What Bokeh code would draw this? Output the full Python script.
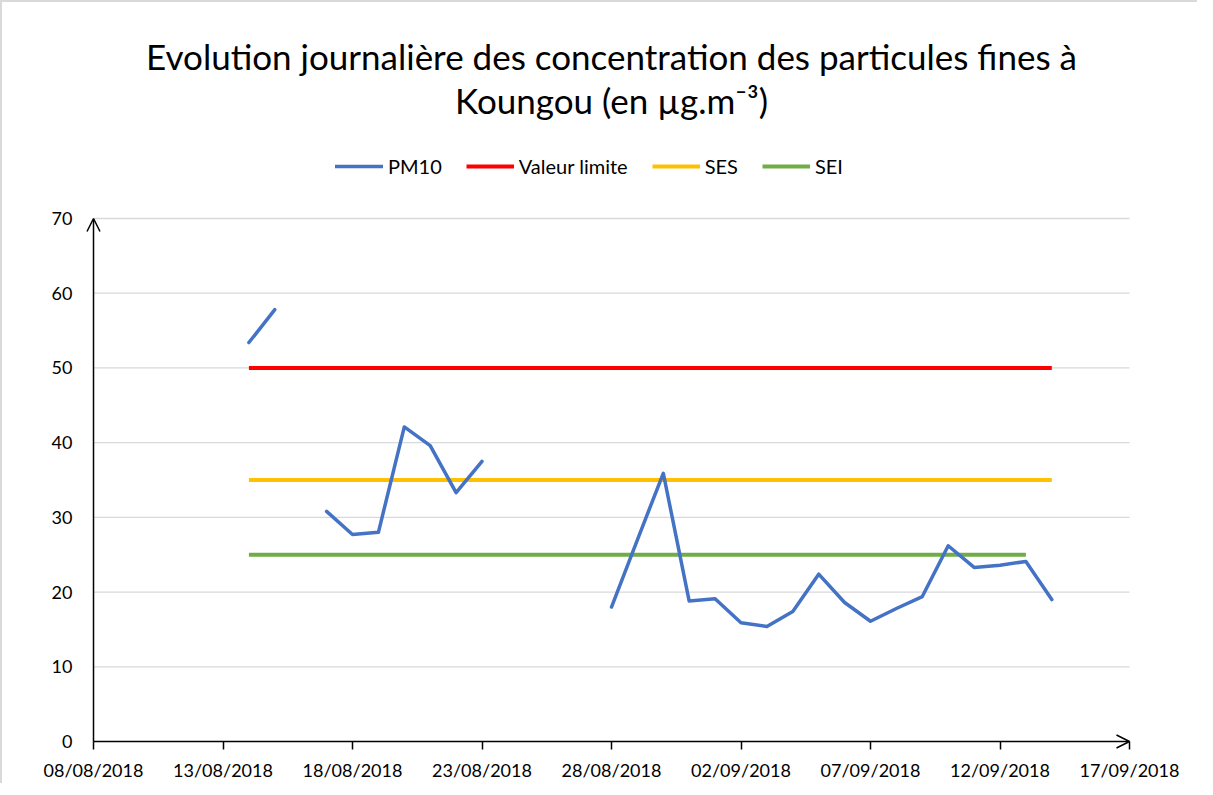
import numpy as np
import pandas as pd
from bokeh.plotting import figure
from bokeh.models import (Title, Legend, LegendItem, Arrow, OpenHead, FixedTicker,
                          DatetimeTickFormatter, Range1d, ColumnDataSource)
from bokeh.embed import file_html
from bokeh.resources import INLINE

# ---------------- data ----------------
title_line1 = "Evolution journalière des concentration des particules fines à"
title_line2 = "Koungou (en µg.m⁻³)"

dates = ["14/08/2018", "15/08/2018", "16/08/2018", "17/08/2018", "18/08/2018",
         "19/08/2018", "20/08/2018", "21/08/2018", "22/08/2018", "23/08/2018",
         "24/08/2018", "25/08/2018", "26/08/2018", "27/08/2018", "28/08/2018",
         "29/08/2018", "30/08/2018", "31/08/2018", "01/09/2018", "02/09/2018",
         "03/09/2018", "04/09/2018", "05/09/2018", "06/09/2018", "07/09/2018",
         "08/09/2018", "09/09/2018", "10/09/2018", "11/09/2018", "12/09/2018",
         "13/09/2018", "14/09/2018"]
pm10 = [53.4, 57.8, None, 30.8, 27.7, 28.0, 42.1, 39.6, 33.3, 37.5,
        None, None, None, None, 18.0, 27.0, 35.9, 18.8, 19.1, 15.9,
        15.4, 17.4, 22.4, 18.6, 16.1, 17.8, 19.4, 26.2, 23.3, 23.6,
        24.1, 19.0]
valeur_limite = [50] * 32
ses = [35] * 32
sei = [25] * 31 + [None]

tick_labels = ["08/08/2018", "13/08/2018", "18/08/2018", "23/08/2018", "28/08/2018",
               "02/09/2018", "07/09/2018", "12/09/2018", "17/09/2018"]
y_ticks = [0, 10, 20, 30, 40, 50, 60, 70]

series_names = ["PM10", "Valeur limite", "SES", "SEI"]
series_colors = ["#4472C4", "#FF0000", "#FFC000", "#70AD47"]

# ---------------- build ----------------
FONT = "Lato"
x = pd.to_datetime(dates, format="%d/%m/%Y")
ticks_dt = pd.to_datetime(tick_labels, format="%d/%m/%Y")
tick_ms = [t.value / 1e6 for t in ticks_dt]

# plot-area geometry (pixels); the frame is extended upward to hold the legend
AX_W, AX_H = 1036, 523          # axes extent: 40 days x 70 units
PAD_L, PAD_R, PAD_B, PAD_T = 8, 8, 8, 98
px_per_ms = AX_W / (tick_ms[-1] - tick_ms[0])
px_per_unit = AX_H / (y_ticks[-1] - y_ticks[0])

def arr(v):
    return np.array([np.nan if a is None else a for a in v], dtype=float)

src = ColumnDataSource(dict(x=x, pm10=arr(pm10), vl=arr(valeur_limite),
                            ses=arr(ses), sei=arr(sei)))

p = figure(frame_width=AX_W + PAD_L + PAD_R, frame_height=AX_H + PAD_B + PAD_T,
           x_axis_type="datetime", output_backend="svg", toolbar_location=None,
           x_range=Range1d(tick_ms[0] - PAD_L / px_per_ms, tick_ms[-1] + PAD_R / px_per_ms),
           y_range=Range1d(y_ticks[0] - PAD_B / px_per_unit, y_ticks[-1] + PAD_T / px_per_unit),
           min_border_left=83, min_border_right=60, min_border_bottom=30,
           min_border_top=118)
p.styles = {"border-left": "2px solid #d9d9d9", "border-top": "2px solid #d9d9d9"}
p.outline_line_color = None
p.background_fill_color = "white"
p.border_fill_color = "white"

# grid (drawn only between the axes extents)
p.xgrid.grid_line_color = None
p.ygrid.grid_line_color = None
p.segment(x0=[tick_ms[0]] * (len(y_ticks) - 1), x1=[tick_ms[-1]] * (len(y_ticks) - 1),
          y0=y_ticks[1:], y1=y_ticks[1:], line_color="#D9D9D9", line_width=1.3)

# axes
p.xaxis.ticker = FixedTicker(ticks=tick_ms)
p.xaxis.formatter = DatetimeTickFormatter(days="%d/%m/%Y", months="%d/%m/%Y",
                                          years="%d/%m/%Y")
p.xaxis.axis_line_color = None
p.xaxis.major_tick_line_color = "black"
p.xaxis.major_tick_line_width = 1.5
p.xaxis.major_tick_in = PAD_B
p.xaxis.major_tick_out = 0
p.xaxis.minor_tick_line_color = None
p.xaxis.major_label_standoff = 9

p.yaxis.ticker = FixedTicker(ticks=y_ticks)
p.yaxis.axis_line_color = None
p.yaxis.major_tick_line_color = None
p.yaxis.minor_tick_line_color = None
p.yaxis.major_tick_out = 0
p.yaxis.major_tick_in = 0
p.yaxis.major_label_standoff = 13

for ax in (p.xaxis, p.yaxis):
    ax.major_label_text_font = FONT
    ax.major_label_text_font_size = "18px"
    ax.major_label_text_color = "#000000"

# axis arrows
p.add_layout(Arrow(end=OpenHead(size=13, line_width=1.5, line_color="black"),
                   x_start=tick_ms[0], y_start=0, x_end=tick_ms[0], y_end=y_ticks[-1],
                   line_width=1.5, line_color="black"))
p.add_layout(Arrow(end=OpenHead(size=13, line_width=1.5, line_color="black"),
                   x_start=tick_ms[0], y_start=0, x_end=tick_ms[-1], y_end=0,
                   line_width=1.5, line_color="black"))

# series
r_vl = p.line("x", "vl", source=src, line_color=series_colors[1], line_width=4)
r_ses = p.line("x", "ses", source=src, line_color=series_colors[2], line_width=4)
r_sei = p.line("x", "sei", source=src, line_color=series_colors[3], line_width=4)
r_pm = p.line("x", "pm10", source=src, line_color=series_colors[0], line_width=3.5,
              line_join="round", line_cap="round")

legend = Legend(items=[LegendItem(label=series_names[0], renderers=[r_pm]),
                       LegendItem(label=series_names[1], renderers=[r_vl]),
                       LegendItem(label=series_names[2], renderers=[r_ses]),
                       LegendItem(label=series_names[3], renderers=[r_sei])],
                orientation="horizontal", location=(250, 571),
                label_text_font=FONT, label_text_font_size="20px",
                label_text_color="#000000",
                glyph_width=48, glyph_height=20, label_standoff=5, spacing=24,
                border_line_color=None, background_fill_alpha=0,
                padding=0, margin=0)
p.add_layout(legend, "center")

p.add_layout(Title(text=title_line2, align="center", text_font=FONT,
                   text_font_size="35px", text_font_style="normal",
                   text_color="#000000", standoff=0), "above")
p.add_layout(Title(text=title_line1, align="center", text_font=FONT,
                   text_font_size="35px", text_font_style="normal",
                   text_color="#000000", standoff=0), "above")

open("out.html", "w").write(file_html(p, INLINE))
